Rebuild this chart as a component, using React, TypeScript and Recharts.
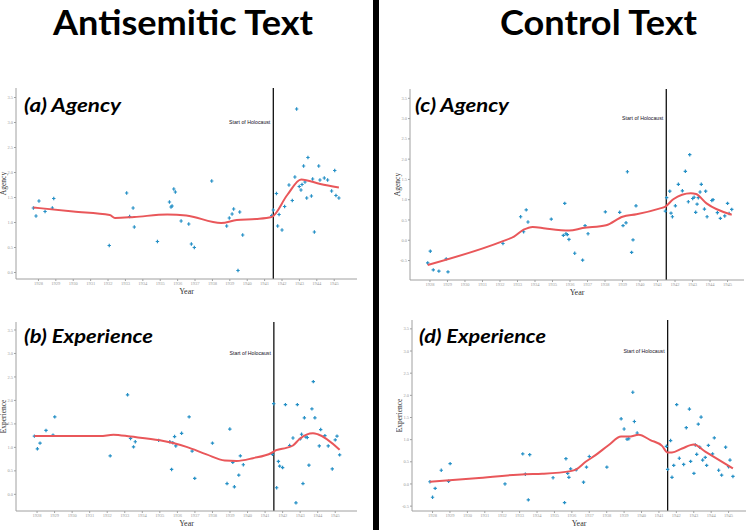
import React from 'react'
import { ScatterChart, Scatter, XAxis, YAxis, ReferenceLine, ReferenceDot } from 'recharts'

// tick labels
const YEARS = [1928, 1929, 1930, 1931, 1932, 1933, 1934, 1935, 1936, 1937, 1938, 1939, 1940, 1941, 1942, 1943, 1944, 1945]
const Y_TICKS_ANTI = [0, 0.5, 1, 1.5, 2, 2.5, 3, 3.5]
const Y_TICKS_CTRL = [-0.5, 0, 0.5, 1, 1.5, 2, 2.5, 3, 3.5]
const HOLOCAUST_START = 1941.5
const HOLOCAUST_LABEL_Y = 3.0

// (a) antisemitic text, agency: [year, score]
const antiAgency: [number, number][] = [
  [1927.71, 1.29], [1927.86, 1.13], [1928.03, 1.43], [1928.38, 1.22], [1928.8, 1.29], [1928.88, 1.48],
  [1932.07, 0.54], [1933.07, 1.59], [1933.24, 1.12], [1933.44, 1.29], [1933.51, 0.91], [1934.84, 0.62],
  [1935.53, 1.41], [1935.62, 1.31], [1935.68, 1.33], [1935.78, 1.67], [1935.87, 1.61], [1936.2, 1.03],
  [1936.64, 0.97], [1936.79, 0.57], [1936.96, 0.5], [1937.96, 1.83], [1938.82, 0.93], [1938.97, 1.09],
  [1939.13, 1.17], [1939.22, 1.27], [1939.47, 0.04], [1939.57, 1.21], [1939.74, 0.75], [1941.41, 1.14],
  [1941.5, 1.25], [1941.68, 1.58], [1941.75, 0.93], [1941.83, 1.16], [1942.0, 0.85], [1942.15, 1.32],
  [1942.4, 1.75], [1942.59, 1.44], [1942.74, 1.91], [1942.84, 3.27], [1942.99, 1.72], [1943.09, 1.65],
  [1943.15, 1.76], [1943.24, 2.13], [1943.32, 1.81], [1943.42, 1.49], [1943.49, 2.3], [1943.69, 1.53],
  [1943.76, 1.87], [1943.86, 0.81], [1944.11, 2.13], [1944.18, 1.85], [1944.43, 1.89], [1944.62, 1.85],
  [1944.85, 1.63], [1945.03, 2.04], [1945.1, 1.54], [1945.27, 1.49],
]
const antiAgencySmooth: [number, number][] = [
  [1927.71, 1.3], [1930.0, 1.22], [1932.1, 1.15], [1932.4, 1.09], [1933.5, 1.11], [1935.4, 1.16],
  [1936.5, 1.14], [1938.5, 0.99], [1939.4, 1.05], [1940.5, 1.07], [1941.4, 1.11], [1942.3, 1.55],
  [1943.1, 1.86], [1944.2, 1.77], [1945.27, 1.7],
]

// (b) antisemitic text, experience
const antiExperience: [number, number][] = [
  [1927.85, 1.24], [1928.02, 0.97], [1928.17, 1.09], [1928.51, 1.36], [1928.91, 1.26], [1929.01, 1.65],
  [1932.17, 0.82], [1933.16, 2.12], [1933.33, 1.19], [1933.5, 1.01], [1933.6, 1.12], [1934.93, 1.15],
  [1935.57, 1.12], [1935.67, 0.53], [1935.74, 1.1], [1935.84, 1.23], [1935.91, 1.03], [1936.24, 1.3],
  [1936.67, 1.65], [1936.84, 0.92], [1936.99, 0.34], [1938.0, 1.09], [1938.83, 0.23], [1938.99, 1.39],
  [1939.16, 0.68], [1939.25, 0.16], [1939.5, 0.41], [1939.59, 0.82], [1939.76, 0.63], [1941.42, 0.85],
  [1941.49, 1.93], [1941.66, 0.14], [1941.76, 0.7], [1941.83, 0.6], [1942.0, 0.57], [1942.16, 1.91],
  [1942.4, 1.04], [1942.59, 1.2], [1942.76, -0.18], [1942.84, 1.91], [1943.01, 1.18], [1943.08, 1.28],
  [1943.16, 0.23], [1943.24, 1.63], [1943.33, 1.22], [1943.41, 1.21], [1943.5, 0.62], [1943.67, 1.82],
  [1943.75, 2.4], [1943.84, 1.63], [1944.09, 1.03], [1944.17, 1.38], [1944.41, 1.25], [1944.6, 1.03],
  [1944.83, 0.54], [1945.0, 1.16], [1945.1, 1.24], [1945.25, 0.84],
]
const antiExperienceSmooth: [number, number][] = [
  [1927.85, 1.24], [1931.6, 1.24], [1932.35, 1.27], [1933.33, 1.23], [1935.0, 1.15], [1936.52, 1.01],
  [1937.66, 0.85], [1938.7, 0.72], [1939.37, 0.71], [1940.31, 0.77], [1941.36, 0.88], [1941.64, 0.94],
  [1942.21, 0.99], [1942.59, 1.04], [1942.97, 1.18], [1943.73, 1.3], [1944.0, 1.28], [1945.25, 0.95],
]

// (c) control text, agency
const ctrlAgency: [number, number][] = [
  [1927.87, -0.56], [1928.02, -0.27], [1928.19, -0.73], [1928.51, -0.76], [1928.93, -0.46], [1929.03, -0.78],
  [1932.17, -0.08], [1933.18, 0.58], [1933.35, 0.21], [1933.5, 0.75], [1933.6, 0.45], [1934.93, 0.52],
  [1935.62, 0.12], [1935.7, 0.91], [1935.77, 0.16], [1935.85, 0.14], [1935.94, 0.02], [1936.27, -0.32],
  [1936.72, -0.49], [1936.86, 0.36], [1937.03, 0.16], [1938.02, 0.7], [1938.84, 0.69], [1939.03, 0.36],
  [1939.2, 0.43], [1939.28, 1.69], [1939.52, -0.3], [1939.6, 0.01], [1939.77, 0.85], [1941.45, 0.72],
  [1941.52, 1.05], [1941.7, 1.21], [1941.77, 0.67], [1941.85, 0.58], [1942.02, 0.85], [1942.19, 1.38],
  [1942.42, 1.22], [1942.59, 1.7], [1942.76, 0.95], [1942.84, 2.11], [1943.01, 1.03], [1943.09, 1.06],
  [1943.18, 0.69], [1943.26, 0.89], [1943.33, 1.05], [1943.43, 1.19], [1943.5, 1.38], [1943.68, 0.77],
  [1943.75, 1.21], [1943.83, 0.58], [1944.1, 0.98], [1944.17, 1.0], [1944.42, 0.68], [1944.59, 0.54],
  [1944.84, 0.6], [1945.0, 0.91], [1945.09, 0.66], [1945.24, 0.76],
]
const ctrlAgencySmooth: [number, number][] = [
  [1927.87, -0.61], [1932.17, -0.02], [1932.8, 0.09], [1933.35, 0.26], [1933.87, 0.33], [1934.6, 0.29],
  [1935.96, 0.24], [1936.72, 0.3], [1938.06, 0.37], [1939.0, 0.58], [1939.8, 0.64], [1941.1, 0.78],
  [1941.45, 0.83], [1941.9, 1.01], [1942.9, 1.16], [1943.2, 1.14], [1943.8, 0.91], [1945.24, 0.63],
]

// (d) control text, experience
const ctrlExperience: [number, number][] = [
  [1927.85, 0.05], [1928.0, -0.3], [1928.15, -0.1], [1928.5, 0.31], [1928.92, 0.06], [1929.01, 0.46],
  [1932.16, 0.0], [1933.18, 0.68], [1933.33, 0.22], [1933.5, -0.36], [1933.58, 0.66], [1934.92, 0.14],
  [1935.58, -0.42], [1935.66, 0.57], [1935.76, 0.24], [1935.83, 0.15], [1935.93, 0.34], [1936.25, 0.32],
  [1936.67, 0.04], [1936.84, 0.38], [1937.0, 0.62], [1938.01, 0.38], [1938.83, 1.47], [1939.0, 1.24],
  [1939.17, 1.01], [1939.27, 1.02], [1939.5, 2.07], [1939.59, 1.41], [1939.75, 1.15], [1941.43, 0.85],
  [1941.5, 0.33], [1941.67, 0.98], [1941.75, 0.15], [1941.85, 0.42], [1942.02, 1.79], [1942.17, 0.58],
  [1942.42, 0.44], [1942.57, 1.27], [1942.75, 1.69], [1942.82, 0.51], [1943.01, 0.24], [1943.09, 0.88],
  [1943.17, 0.67], [1943.26, 1.35], [1943.34, 0.83], [1943.42, 1.51], [1943.51, 0.54], [1943.66, 0.6],
  [1943.74, 0.42], [1943.84, 0.87], [1944.08, 0.68], [1944.18, 1.04], [1944.43, 0.31], [1944.6, 0.2],
  [1944.83, 0.83], [1945.0, 0.39], [1945.08, 0.54], [1945.25, 0.17],
]
const ctrlExperienceSmooth: [number, number][] = [
  [1927.85, 0.05], [1930.48, 0.13], [1933.33, 0.22], [1934.3, 0.23], [1935.93, 0.29], [1936.25, 0.33],
  [1936.79, 0.5], [1937.36, 0.65], [1938.12, 0.88], [1938.83, 1.07], [1939.27, 1.07], [1939.84, 1.11],
  [1940.51, 0.99], [1941.18, 0.86], [1941.5, 0.71], [1941.75, 0.71], [1942.33, 0.8], [1943.0, 0.89],
  [1943.66, 0.73], [1945.25, 0.35],
]

const toRows = (pts: [number, number][]) => pts.map(([x, y]) => ({ x, y }))

const POINT_COLOR = '#2590c6'
const LINE_COLOR = '#e9575a'
const AXIS_COLOR = '#a0a0a0'
const SERIF = '"Liberation Serif", "DejaVu Serif", serif'
const TITLE_FONT = 'Lato, "Open Sans", sans-serif'

function Cross(props: any) {
  const { cx, cy } = props
  if (cx == null || cy == null) return <g />
  const s = 1.7
  return (
    <path
      d={`M${cx - s},${cy}H${cx + s}M${cx},${cy - s}V${cy + s}`}
      stroke={POINT_COLOR}
      strokeWidth={1.2}
    />
  )
}

const NoDot = () => <g />

interface PanelProps {
  left: number
  top: number
  width: number
  height: number
  xDomain: [number, number]
  yDomain: [number, number]
  yTicks: number[]
  points: [number, number][]
  smooth: [number, number][]
  yLabel: string
}

function Panel({ left, top, width, height, xDomain, yDomain, yTicks, points, smooth, yLabel }: PanelProps) {
  const tickStyle = { fontSize: 4.5, fill: '#9a9a9a', fontFamily: SERIF }
  return (
    <div style={{ position: 'absolute', left, top }}>
      <ScatterChart width={width} height={height} margin={{ top: 10, right: 6, bottom: 0, left: 0 }}>
        <XAxis
          type="number"
          dataKey="x"
          domain={xDomain}
          ticks={YEARS}
          interval={0}
          allowDataOverflow
          height={18}
          tickSize={2}
          tickMargin={1}
          tick={tickStyle}
          stroke={AXIS_COLOR}
          label={(p: any) => {
            const vb = p.viewBox
            if (!vb) return null
            return (
              <text x={vb.x + vb.width / 2} y={vb.y + 12.5} textAnchor="middle" dominantBaseline="central"
                fontSize={8} fontFamily={SERIF} fill="#333">Year</text>
            )
          }}
        />
        <YAxis
          type="number"
          dataKey="y"
          domain={yDomain}
          ticks={yTicks}
          allowDataOverflow
          width={16}
          tickSize={2}
          tickMargin={1}
          tick={tickStyle}
          tickFormatter={(v: number) => v.toFixed(1)}
          stroke={AXIS_COLOR}
          label={(p: any) => {
            const vb = p.viewBox
            if (!vb) return null
            const cx = vb.x + 3.5
            const cy = vb.y + vb.height / 2
            return (
              <text x={cx} y={cy} transform={`rotate(-90 ${cx} ${cy})`} textAnchor="middle" dominantBaseline="central"
                fontSize={7.5} fontFamily={SERIF} fill="#333">{yLabel}</text>
            )
          }}
        />
        <Scatter data={toRows(points)} shape={Cross} isAnimationActive={false} />
        <Scatter
          data={toRows(smooth)}
          shape={NoDot}
          line={{ stroke: LINE_COLOR, strokeWidth: 2 }}
          lineJointType="monotoneX"
          isAnimationActive={false}
        />
        <ReferenceLine x={HOLOCAUST_START} stroke="#111" strokeWidth={1.3} />
        <ReferenceDot
          x={HOLOCAUST_START}
          y={HOLOCAUST_LABEL_Y}
          r={0}
          fill="none"
          stroke="none"
          label={{ value: 'Start of Holocaust', position: 'left', offset: 3, fontSize: 5.2, fill: '#151026', fontFamily: 'Liberation Sans, Arial, sans-serif' }}
        />
      </ScatterChart>
    </div>
  )
}

export default function App() {
  return (
    <div style={{ position: 'absolute', left: 0, top: 0, width: 752, height: 530, background: '#fff', overflow: 'hidden' }}>
      <Panel left={0} top={78} width={363} height={219} xDomain={[1926.71, 1946.31]} yDomain={[-0.13, 3.69]}
        yTicks={Y_TICKS_ANTI} points={antiAgency} smooth={antiAgencySmooth} yLabel="Agency" />
      <Panel left={0} top={312} width={363} height={217} xDomain={[1926.8, 1946.24]} yDomain={[-0.355, 3.67]}
        yTicks={Y_TICKS_ANTI} points={antiExperience} smooth={antiExperienceSmooth} yLabel="Experience" />
      <Panel left={394} top={79} width={356} height={219} xDomain={[1926.86, 1945.94]} yDomain={[-0.98, 3.73]}
        yTicks={Y_TICKS_CTRL} points={ctrlAgency} smooth={ctrlAgencySmooth} yLabel="Agency" />
      <Panel left={396} top={310} width={356} height={219} xDomain={[1926.82, 1946.0]} yDomain={[-0.61, 3.7]}
        yTicks={Y_TICKS_CTRL} points={ctrlExperience} smooth={ctrlExperienceSmooth} yLabel="Experience" />
      <svg width={752} height={530} style={{ position: 'absolute', left: 0, top: 0, pointerEvents: 'none' }}>
        <rect x={373} y={0} width={6} height={530} fill="#000" />
        <text x={53} y={35} fontSize={34} fontWeight={700} fontFamily={TITLE_FONT} textLength={260} lengthAdjust="spacingAndGlyphs">Antisemitic Text</text>
        <text x={500} y={35} fontSize={34} fontWeight={700} fontFamily={TITLE_FONT} textLength={197} lengthAdjust="spacingAndGlyphs">Control Text</text>
        <text x={24} y={111.7} fontSize={18} fontWeight={700} fontStyle="italic" fontFamily={TITLE_FONT} textLength={97} lengthAdjust="spacingAndGlyphs">(a) Agency</text>
        <text x={24} y={343.3} fontSize={18} fontWeight={700} fontStyle="italic" fontFamily={TITLE_FONT} textLength={129} lengthAdjust="spacingAndGlyphs">(b) Experience</text>
        <text x={415} y={111.7} fontSize={18} fontWeight={700} fontStyle="italic" fontFamily={TITLE_FONT} textLength={94} lengthAdjust="spacingAndGlyphs">(c) Agency</text>
        <text x={419} y={343.3} fontSize={18} fontWeight={700} fontStyle="italic" fontFamily={TITLE_FONT} textLength={127} lengthAdjust="spacingAndGlyphs">(d) Experience</text>
      </svg>
    </div>
  )
}
